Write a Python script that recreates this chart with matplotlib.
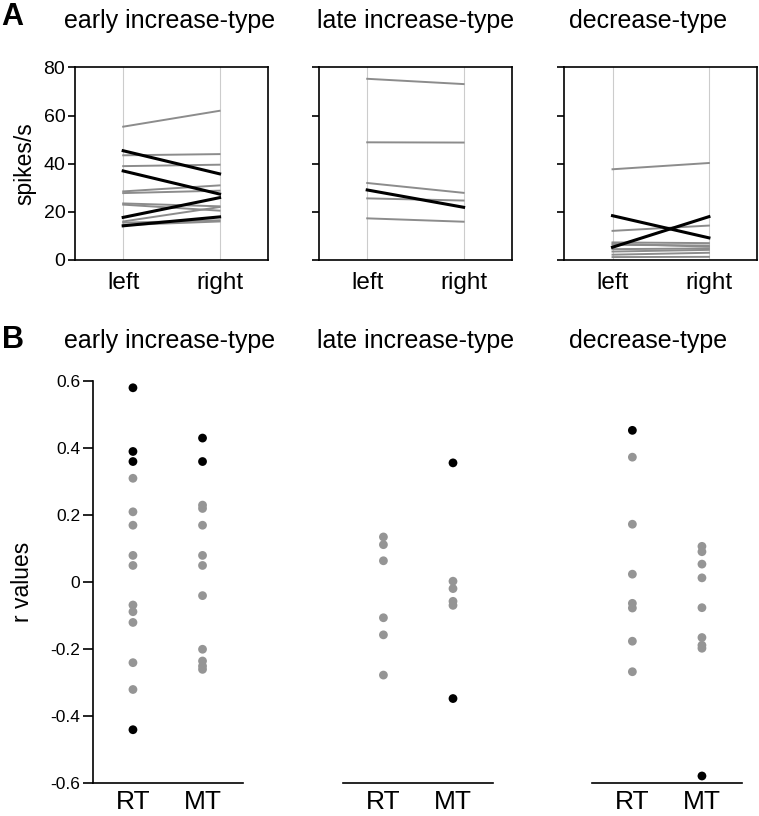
import numpy as np
import matplotlib.pyplot as plt

plt.rcParams['font.family'] = ['Liberation Sans', 'DejaVu Sans']
plt.rcParams['axes.unicode_minus'] = False

# Panel A: firing rate (spikes/s) for left vs right, one line per neuron
titles = ["early increase-type", "late increase-type", "decrease-type"]
sides = ["left", "right"]

early_gray = [(55.4, 62.0), (43.5, 44.0), (39.0, 39.6), (28.5, 31.0), (27.8, 28.8),
              (23.5, 22.3), (23.0, 20.5), (16.0, 22.0), (15.5, 16.5), (14.5, 16.0)]
early_black = [(45.4, 35.8), (37.0, 27.4), (17.7, 25.9), (14.2, 17.9)]

late_gray = [(75.3, 73.1), (48.9, 48.8), (32.0, 27.9), (25.6, 24.7), (17.3, 15.9)]
late_black = [(29.1, 21.9)]

decr_gray = [(37.7, 40.3), (12.1, 14.3), (7.3, 7.0), (6.8, 5.5), (6.3, 6.0),
             (4.5, 4.8), (3.5, 4.2), (2.2, 3.0), (1.2, 1.3)]
decr_black = [(18.4, 9.2), (5.3, 18.0)]

# Panel B: r values for RT and MT
groups = ["RT", "MT"]
early_rt_gray = [0.31, 0.21, 0.17, 0.08, 0.05, -0.068, -0.088, -0.12, -0.24, -0.32]
early_rt_black = [0.58, 0.39, 0.36, -0.44]
early_mt_gray = [0.23, 0.22, 0.17, 0.08, 0.05, -0.04, -0.20, -0.235, -0.25, -0.26]
early_mt_black = [0.43, 0.36]

late_rt_gray = [0.135, 0.112, 0.064, -0.106, -0.157, -0.277]
late_rt_black = []
late_mt_gray = [0.003, -0.019, -0.057, -0.069]
late_mt_black = [0.356, -0.347]

decr_rt_gray = [0.373, 0.173, 0.024, -0.063, -0.077, -0.176, -0.267]
decr_rt_black = [0.453]
decr_mt_gray = [0.107, 0.091, 0.054, 0.013, -0.076, -0.165, -0.188, -0.197]
decr_mt_black = [-0.578]

gray = '#8c8c8c'
dotgray = '#959595'

fig = plt.figure(figsize=(7.59, 8.16), dpi=100)

a_lefts = [0.0988, 0.4203, 0.7435]
a_sets = [(early_gray, early_black), (late_gray, late_black), (decr_gray, decr_black)]
for i, (gl, bl) in enumerate(a_sets):
    ax = fig.add_axes([a_lefts[i], 0.6814, 0.254, 0.2359])
    for x in [0, 1]:
        ax.axvline(x, color='#cccccc', lw=0.8, zorder=0)
    for l, r in gl:
        ax.plot([0, 1], [l, r], color=gray, lw=1.4)
    for l, r in bl:
        ax.plot([0, 1], [l, r], color='black', lw=2.2)
    ax.set_xlim(-0.5, 1.5)
    ax.set_ylim(0, 80)
    ax.set_yticks([0, 20, 40, 60, 80])
    ax.set_xticks([0, 1])
    ax.set_xticklabels(sides, fontsize=17.5)
    ax.tick_params(axis='x', length=0, pad=9)
    ax.tick_params(axis='y', length=5, width=1.2, labelsize=14, pad=2)
    for s in ax.spines.values():
        s.set_linewidth(1.2)
    if i == 0:
        ax.set_ylabel("spikes/s", fontsize=16.5, labelpad=5)
    else:
        ax.set_yticklabels([])

b_lefts = [0.122, 0.452, 0.780]
b_sets = [
    (early_rt_gray, early_rt_black, early_mt_gray, early_mt_black),
    (late_rt_gray, late_rt_black, late_mt_gray, late_mt_black),
    (decr_rt_gray, decr_rt_black, decr_mt_gray, decr_mt_black),
]
for i, (rg, rb, mg, mb) in enumerate(b_sets):
    ax = fig.add_axes([b_lefts[i], 0.040, 0.198, 0.493])
    for xpos, vals, col in [(1, rg, dotgray), (2, mg, dotgray), (1, rb, 'black'), (2, mb, 'black')]:
        if len(vals) == 0:
            continue
        ax.scatter(np.full(len(vals), xpos), vals, s=40, color=col,
                   edgecolors='none', clip_on=False)
    ax.set_xlim(0.42, 2.58)
    ax.set_ylim(-0.6, 0.6)
    ax.set_xticks([1, 2])
    ax.set_xticklabels(groups, fontsize=19)
    ax.tick_params(axis='x', length=0, pad=5)
    ax.spines['top'].set_visible(False)
    ax.spines['right'].set_visible(False)
    ax.spines['bottom'].set_linewidth(1.2)
    ax.spines['left'].set_linewidth(1.2)
    if i == 0:
        ax.set_yticks([-0.6, -0.4, -0.2, 0, 0.2, 0.4, 0.6])
        ax.set_yticklabels(["-0.6", "-0.4", "-0.2", "0", "0.2", "0.4", "0.6"])
        ax.tick_params(axis='y', length=7, width=1.2, labelsize=12.5, pad=2)
        ax.set_ylabel("r values", fontsize=16.5, labelpad=12)
    else:
        ax.spines['left'].set_visible(False)
        ax.set_yticks([])

# panel letters and titles
fig.text(0.002, 0.979, "A", fontsize=22, fontweight='bold', va='center', ha='left')
fig.text(0.002, 0.583, "B", fontsize=22, fontweight='bold', va='center', ha='left')
title_x = [0.224, 0.548, 0.854]
for i, t in enumerate(titles):
    fig.text(title_x[i], 0.974, t, fontsize=18, ha='center', va='center')
    fig.text(title_x[i], 0.582, t, fontsize=18, ha='center', va='center')

fig.savefig("out.png", dpi=100)
